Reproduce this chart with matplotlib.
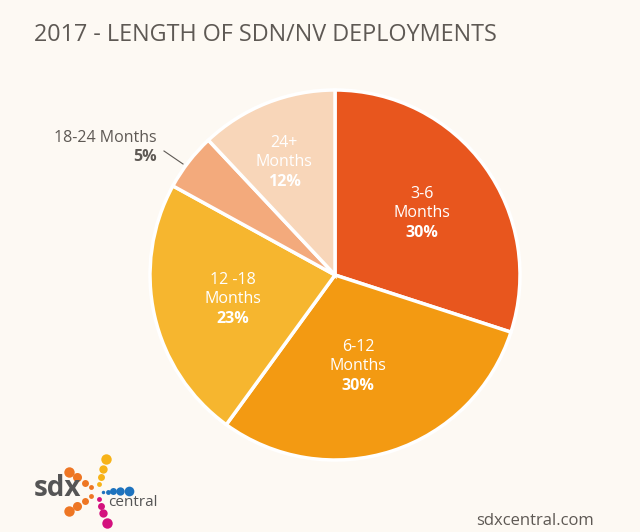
import matplotlib
matplotlib.use("Agg")
import matplotlib.pyplot as plt

# data
labels = ["3-6\nMonths", "6-12\nMonths", "12 -18\nMonths", "18-24 Months", "24+\nMonths"]
shares = [30, 30, 23, 5, 12]
colors = ["#E8561E", "#F39A12", "#F6B62F", "#F3AA7C", "#F8D6B9"]

bg = "#FDF9F3"
grey = "#5E5954"
font = "Open Sans"

fig = plt.figure(figsize=(6.4, 5.32), dpi=100, facecolor=bg)
ax = fig.add_axes([0, 0, 1, 1])

# y axis is flipped, so counterclock=True draws clockwise on screen
wedges, _ = ax.pie(shares, colors=colors, startangle=-90, counterclock=True,
                   center=(335, 275), radius=185,
                   wedgeprops=dict(edgecolor="white", linewidth=2.5))
ax.set_xlim(0, 640)
ax.set_ylim(532, 0)
ax.set_aspect("equal")
ax.axis("off")
ax.set_facecolor(bg)

# inside labels (top line y)
inside = {0: (422, 194), 1: (358, 347), 2: (233, 280), 4: (284, 143)}
for i, (x, y) in inside.items():
    first, second = labels[i].split("\n")
    ax.text(x, y, first, ha="center", va="center", color="white", fontsize=11.5, family=font)
    ax.text(x, y + 19, second, ha="center", va="center", color="white", fontsize=11.5, family=font)
    ax.text(x, y + 39, f"{shares[i]}%", ha="center", va="center", color="white",
            fontsize=11.5, family=font, fontweight="bold")

# outside label for the small slice
ax.text(157, 138, labels[3], ha="right", va="center", color=grey, fontsize=11.5, family=font)
ax.text(157, 157, f"{shares[3]}%", ha="right", va="center", color=grey, fontsize=11.5,
        family=font, fontweight="bold")
ax.plot([164, 183], [151, 164], color=grey, lw=0.8)

# title and footer
ax.text(34, 35, "2017 - LENGTH OF SDN/NV DEPLOYMENTS", ha="left", va="center",
        color=grey, fontsize=16.8, family=font)
ax.text(594, 521, "sdxcentral.com", ha="right", va="center", color=grey,
        fontsize=12, family=font)

# logo
dots = [
    ((106, 459), 7.5, "#F7B318"), ((103, 469), 6, "#F7B318"), ((101, 477), 5, "#F7B318"), ((99, 484), 3.5, "#F7B318"),
    ((129, 491), 7, "#1E73BE"), ((120, 491), 6, "#1E73BE"), ((113, 491), 5, "#1E73BE"), ((108, 492), 3.5, "#1E73BE"), ((103, 492), 2.5, "#1E73BE"),
    ((107, 523), 7.5, "#D4117E"), ((103, 513), 6, "#D4117E"), ((101, 506), 5, "#D4117E"), ((99, 499), 3.5, "#D4117E"),
    ((69, 472), 7.5, "#EE7623"), ((77, 477), 6.5, "#EE7623"), ((85, 483), 5, "#EE7623"), ((91, 487), 3.5, "#EE7623"),
    ((69, 511), 7.5, "#EE7623"), ((77, 506), 6.5, "#EE7623"), ((85, 501), 5, "#EE7623"), ((91, 496), 3.5, "#EE7623"),
]
for (x, y), s, c in dots:
    ax.plot(x, y, "o", ms=s, color=c, mec="none")
ax.text(57, 489, "sdx", ha="center", va="center", color="#555555", fontsize=20,
        family=font, fontweight="bold")
ax.text(108, 503, "central", ha="left", va="center", color="#555555", fontsize=11, family=font)

fig.savefig("out.png", dpi=100, facecolor=bg)
